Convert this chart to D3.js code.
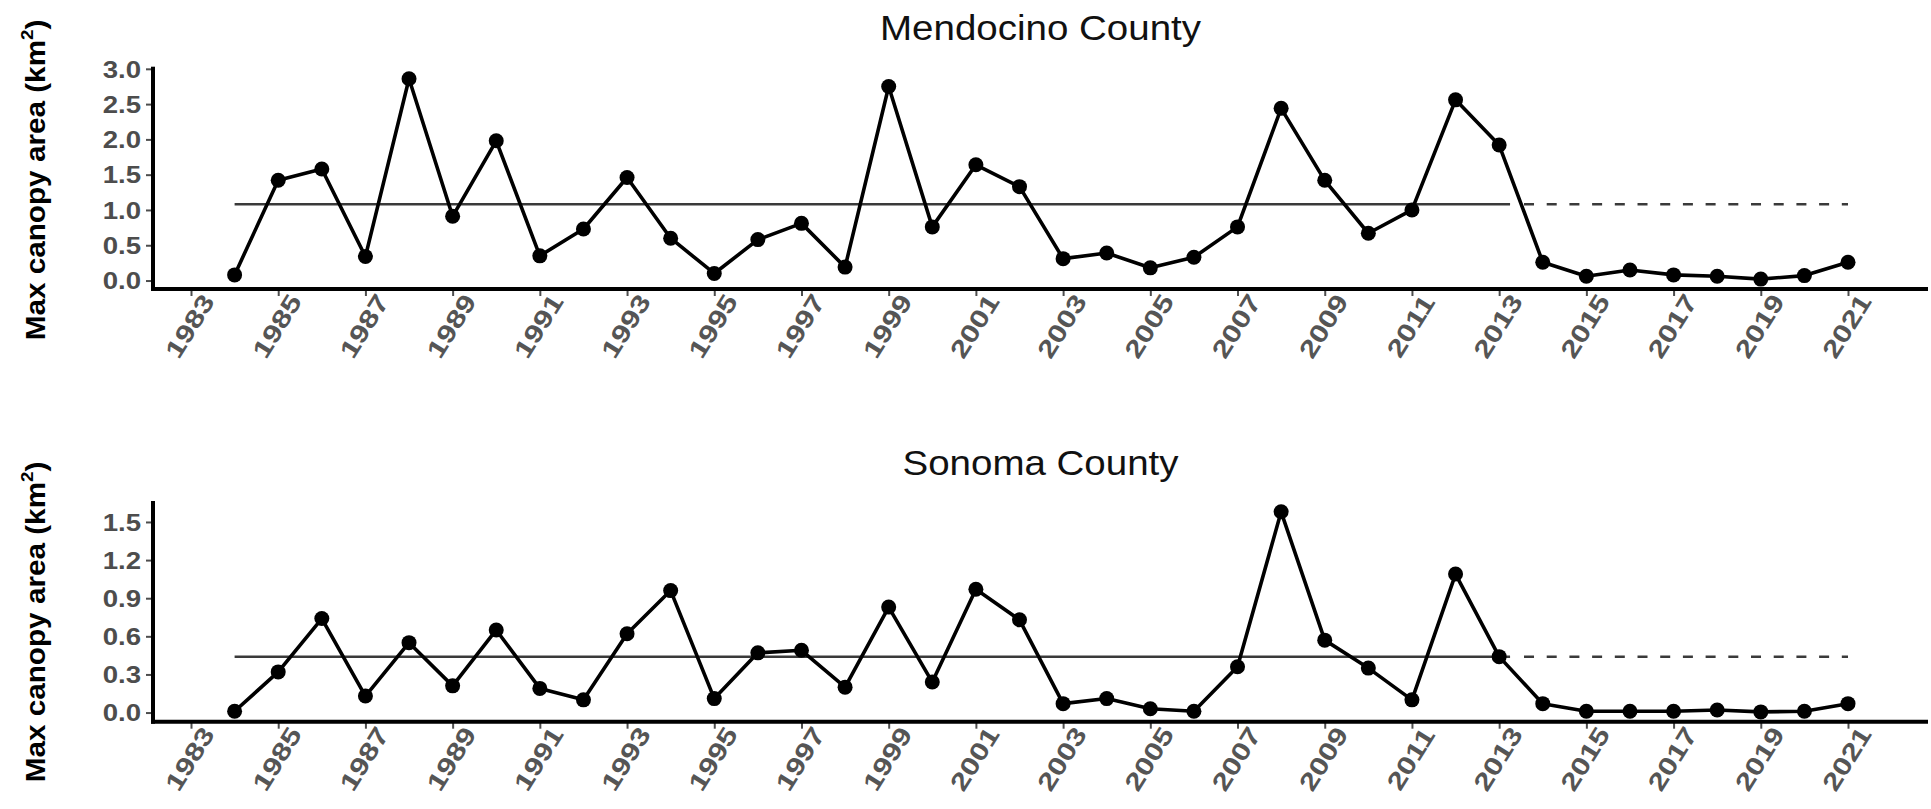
<!DOCTYPE html>
<html>
<head>
<meta charset="utf-8">
<script src="https://cdn.jsdelivr.net/npm/d3@7"></script>
<style>
  html, body { margin: 0; padding: 0; background: #fff; }
  svg { display: block; }
  text { font-family: "Liberation Sans", Arial, Helvetica, sans-serif; }
</style>
</head>
<body>
<svg id="chart" width="1931" height="809"></svg>
<script>
// ---------------- data ----------------
const years = [1984,1985,1986,1987,1988,1989,1990,1991,1992,1993,1994,1995,1996,1997,1998,1999,2000,2001,2002,2003,2004,2005,2006,2007,2008,2009,2010,2011,2012,2013,2014,2015,2016,2017,2018,2019,2020,2021];
const mendocino = [0.08,1.42,1.58,0.34,2.86,0.91,1.98,0.35,0.73,1.46,0.60,0.10,0.58,0.81,0.19,2.75,0.76,1.64,1.33,0.31,0.39,0.18,0.33,0.76,2.44,1.42,0.67,1.00,2.56,1.92,0.26,0.06,0.15,0.08,0.06,0.02,0.07,0.26];
const sonoma = [0.01,0.32,0.74,0.13,0.55,0.21,0.65,0.19,0.10,0.62,0.96,0.11,0.47,0.49,0.20,0.83,0.24,0.97,0.73,0.07,0.11,0.03,0.01,0.36,1.58,0.57,0.35,0.10,1.09,0.44,0.07,0.01,0.01,0.01,0.02,0.005,0.01,0.07];
const meanMendocino = 1.08;
const meanSonoma = 0.44;
const meanSolidYears = [1984, 2013.25];
const meanDashedYears = [2013.57, 2021];
const xTickYears = [1983,1985,1987,1989,1991,1993,1995,1997,1999,2001,2003,2005,2007,2009,2011,2013,2015,2017,2019,2021];
const yTicksMendocino = [0.0,0.5,1.0,1.5,2.0,2.5,3.0];
const yTicksSonoma = [0.0,0.3,0.6,0.9,1.2,1.5];
const titles = ["Mendocino County", "Sonoma County"];
const yLabel = "Max canopy area (km";

// ---------------- layout ----------------
const svg = d3.select("#chart");
const panelLeft = 153, panelRight = 1928;
const x = d3.scaleLinear().domain([1983, 2021]).range([191, 1848]);

const panels = [
  { title: titles[0], values: mendocino, mean: meanMendocino, ticks: yTicksMendocino,
    domain: [-0.12, 3.03], top: 66.7, bottom: 289, titleY: 40, labelY: 180 },
  { title: titles[1], values: sonoma, mean: meanSonoma, ticks: yTicksSonoma,
    domain: [-0.072, 1.665], top: 501, bottom: 721.7, titleY: 475, labelY: 622 }
];

const tickColor = "#4d4d4d";

panels.forEach(p => {
  const y = d3.scaleLinear().domain(p.domain).range([p.bottom, p.top]);
  const g = svg.append("g");

  // title
  g.append("text")
    .attr("transform", `translate(${(panelLeft + panelRight) / 2},${p.titleY}) scale(1.1,1)`)
    .attr("text-anchor", "middle")
    .attr("font-size", 35)
    .attr("fill", "#111")
    .text(p.title);

  // y label
  const yl = g.append("text")
    .attr("transform", `translate(45,${p.labelY}) rotate(-90) scale(1.1,1)`)
    .attr("text-anchor", "middle")
    .attr("font-size", 27)
    .attr("font-weight", "bold")
    .attr("fill", "#000");
  yl.append("tspan").text(yLabel);
  yl.append("tspan").attr("font-size", 17).attr("dy", -12).text("2");
  yl.append("tspan").attr("dy", 12).text(")");

  // y axis ticks
  const yAxis = d3.axisLeft(y).tickValues(p.ticks).tickFormat(d3.format(".1f")).tickSize(5).tickPadding(4);
  const ya = g.append("g").attr("transform", `translate(${panelLeft - 2},0)`).call(yAxis);
  ya.select(".domain").remove();
  ya.selectAll(".tick line").attr("stroke", tickColor).attr("stroke-width", 2);
  ya.selectAll(".tick text")
    .attr("fill", tickColor)
    .attr("font-size", 23)
    .attr("font-weight", "bold")
    .attr("font-family", '"Liberation Sans", Arial, sans-serif')
    .attr("dy", "0.36em")
    .attr("x", null)
    .attr("transform", "translate(-10,0) scale(1.2,1)");

  // x axis ticks
  const xAxis = d3.axisBottom(x).tickValues(xTickYears).tickFormat(d3.format("d")).tickSize(6);
  const xa = g.append("g").attr("transform", `translate(0,${p.bottom + 1})`).call(xAxis);
  xa.select(".domain").remove();
  xa.selectAll(".tick line").attr("stroke", tickColor).attr("stroke-width", 2);
  xa.selectAll(".tick text")
    .attr("fill", "#555")
    .attr("font-size", 25)
    .attr("font-weight", "bold")
    .attr("font-family", '"Liberation Sans", Arial, sans-serif')
    .attr("text-anchor", "middle")
    .attr("y", null).attr("dy", "0.36em")
    .attr("transform", "translate(-2,36) rotate(-58) scale(1.25,1)");

  // axis lines
  g.append("line").attr("x1", panelLeft).attr("x2", panelLeft)
    .attr("y1", p.top).attr("y2", p.bottom + 2)
    .attr("stroke", "#000").attr("stroke-width", 4);
  g.append("line").attr("x1", panelLeft - 2).attr("x2", panelRight)
    .attr("y1", p.bottom).attr("y2", p.bottom)
    .attr("stroke", "#000").attr("stroke-width", 4);

  // mean lines
  g.append("line")
    .attr("x1", x(meanSolidYears[0])).attr("x2", x(meanSolidYears[1]))
    .attr("y1", y(p.mean)).attr("y2", y(p.mean))
    .attr("stroke", "#3a3a3a").attr("stroke-width", 2.5);
  g.append("line")
    .attr("x1", x(meanDashedYears[0])).attr("x2", x(meanDashedYears[1]))
    .attr("y1", y(p.mean)).attr("y2", y(p.mean))
    .attr("stroke", "#3a3a3a").attr("stroke-width", 2.5)
    .attr("stroke-dasharray", "10,12.7");

  // data line
  const pts = years.map((yr, i) => [yr, p.values[i]]);
  g.append("path")
    .datum(pts)
    .attr("fill", "none")
    .attr("stroke", "#000")
    .attr("stroke-width", 3.6)
    .attr("stroke-linejoin", "round")
    .attr("d", d3.line().x(d => x(d[0])).y(d => y(d[1])));
  g.selectAll("circle.pt")
    .data(pts)
    .join("circle")
    .attr("class", "pt")
    .attr("cx", d => x(d[0]))
    .attr("cy", d => y(d[1]))
    .attr("r", 7.5)
    .attr("fill", "#000");
});
</script>
</body>
</html>
